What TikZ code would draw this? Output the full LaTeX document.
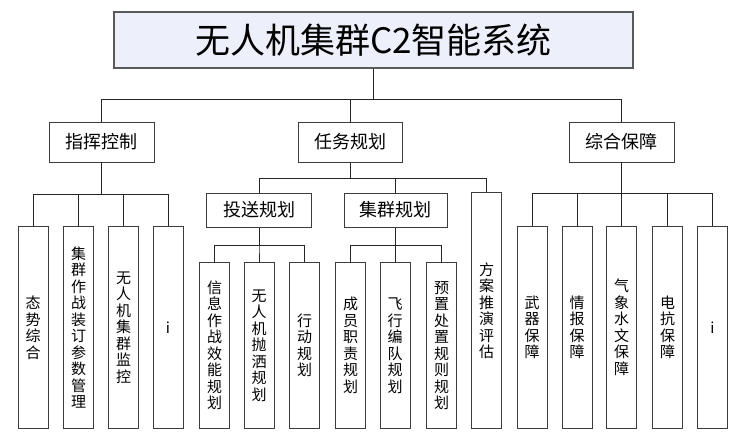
\documentclass[tikz,border=0pt]{standalone}
\usepackage{fontspec}
\newfontfamily\cjk{Noto Sans CJK SC}
\definecolor{titlefill}{RGB}{237,240,250}
\definecolor{boxline}{RGB}{60,60,60}
\tikzset{box/.style={draw=boxline, line width=1pt, fill=white, inner sep=0pt, align=center}, % every frame in the chart
titlebox/.style={box, draw=gray!70!black, line width=1.2pt, fill=titlefill, minimum width=519pt, minimum height=56pt, font=\cjk\fontsize{35}{40}\selectfont},
headbox/.style={box, minimum width=105pt, minimum height=40pt, font=\cjk\fontsize{18}{20}\selectfont}, % first level
subbox/.style={box, minimum width=104pt, minimum height=34pt, font=\cjk\fontsize{18}{20}\selectfont}, % second level
leaf/.style={box, minimum width=30pt, minimum height=#1, anchor=south, font=\cjk\fontsize{15}{16.5}\selectfont}, % tall boxes, all end at the same bottom line
link/.style={line width=0.9pt, black!85}, % tree lines
}

\begin{document}
\begin{tikzpicture}[x=1pt, y=-1pt] % one unit is one pixel of the sketch, y runs down
    \useasboundingbox (0,0) rectangle (747,437);

    \node[titlebox] (title) at (373.5,40) {无人机集群C2智能系统};

    \node[headbox] (cmd) at (101.5,142) {指挥控制};
    \node[headbox, minimum width=104pt] (task) at (350,142) {任务规划};
    \node[headbox] (supp) at (621.5,142) {综合保障};

    \node[subbox, minimum width=105pt] (send) at (259,210) {投送规划};
    \node[subbox, minimum width=103pt] (swarm) at (395.5,210) {集群规划};
    \node[leaf=236pt] (eval) at (486.5,429) {方\\案\\推\\演\\评\\估};

    % under command and control
    \node[leaf=202pt] (c1) at (33,429) {态\\势\\综\\合};
    \node[leaf=202pt] (c2) at (78.5,429) {集\\群\\作\\战\\装\\订\\参\\数\\管\\理};
    \node[leaf=202pt] (c3) at (123.5,429) {无\\人\\机\\集\\群\\监\\控};
    \node[leaf=202pt] (c4) at (168,429) {i};

    % under delivery planning
    \node[leaf=166pt] (s1) at (214.5,429) {信\\息\\作\\战\\效\\能\\规\\划};
    \node[leaf=166pt] (s2) at (259,429) {无\\人\\机\\抛\\洒\\规\\划};
    \node[leaf=166pt] (s3) at (304.5,429) {行\\动\\规\\划};

    % under swarm planning
    \node[leaf=166pt] (w1) at (350.5,429) {成\\员\\职\\责\\规\\划};
    \node[leaf=166pt] (w2) at (395,429) {飞\\行\\编\\队\\规\\划};
    \node[leaf=166pt] (w3) at (441.5,429) {预\\置\\处\\置\\规\\则\\规\\划};

    % under support
    \node[leaf=202pt] (g1) at (532,429) {武\\器\\保\\障};
    \node[leaf=202pt] (g2) at (577,429) {情\\报\\保\\障};
    \node[leaf=202pt] (g3) at (621.5,429) {气\\象\\水\\文\\保\\障};
    \node[leaf=202pt] (g4) at (667.5,429) {电\\抗\\保\\障};
    \node[leaf=202pt] (g5) at (712.5,429) {i};

    \foreach \c in {cmd,task,supp} \draw[link] (title.south) -- ++(0,31) -| (\c.north);
    \foreach \c in {c1,c2,c3,c4} \draw[link] (cmd.south) -- ++(0,32) -| (\c.north);
    \foreach \c in {send,swarm,eval} \draw[link] (task.south) -- ++(0,16) -| (\c.north);
    \foreach \c in {s1,s2,s3} \draw[link] (send.south) -- ++(0,18) -| (\c.north);
    \foreach \c in {w1,w2,w3} \draw[link] (swarm.south) -- ++(0,18) -| (\c.north);
    \foreach \c in {g1,g2,g3,g4,g5} \draw[link] (supp.south) -- ++(0,31) -| (\c.north);
\end{tikzpicture}
\end{document}
